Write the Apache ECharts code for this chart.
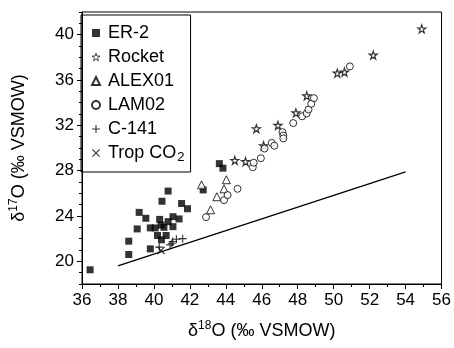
<!DOCTYPE html>
<html>
<head>
<meta charset="utf-8">
<script src="https://cdn.jsdelivr.net/npm/echarts@6/dist/echarts.min.js"></script>
<style>
  html, body { margin: 0; padding: 0; background: #fff; }
  #chart { width: 454px; height: 348px; }
</style>
</head>
<body>
<div id="chart"></div>
<script>
// values (d18O, d17O in permil VSMOW)
const er2X = [36.45, 38.6, 38.6, 39.18, 39.07, 39.55, 39.8, 39.8, 40.07, 40.32, 40.4, 40.2, 40.42, 40.68, 40.45, 40.79, 40.56, 40.79, 41.06, 41.06, 41.4, 41.54, 41.87, 42.74, 43.64, 43.84]
const er2Y = [19.25, 21.78, 20.6, 24.32, 22.86, 23.8, 21.1, 22.95, 22.95, 23.7, 23.2, 22.28, 21.9, 22.28, 25.3, 26.2, 23.0, 23.5, 23.06, 23.94, 23.74, 25.1, 24.64, 26.3, 28.62, 28.22]

const rocketX = [44.5, 45.1, 45.7, 46.1, 46.9, 47.9, 48.5, 50.2, 50.6, 52.2, 54.9]
const rocketY = [28.9, 28.8, 31.7, 30.2, 32.0, 33.1, 34.6, 36.6, 36.7, 38.2, 40.5]

const alexX = [42.65, 44.03, 43.9, 43.5, 43.15]
const alexY = [26.75, 27.2, 26.4, 25.7, 24.55]

const lamX = [42.9, 43.9, 44.1, 44.65, 45.5, 45.55, 45.95, 46.15, 46.55, 46.7, 47.15, 47.2, 47.2, 47.75, 48.25, 48.5, 48.6, 48.75, 48.9, 50.9]
const lamY = [23.9, 25.4, 25.85, 26.4, 28.3, 28.7, 29.1, 29.95, 30.45, 30.2, 31.4, 31.1, 30.85, 32.2, 32.8, 33.05, 33.4, 33.9, 34.4, 37.2]

const c141X = [40.3, 40.9, 41.0, 41.05, 41.25, 41.6]
const c141Y = [21.25, 21.45, 21.6, 21.75, 21.95, 22.0]

const tropX = [40.4]
const tropY = [20.95]

// terrestrial fractionation line
const lineX = [38.0, 54.0]
const lineY = [19.6, 27.9]

const xRange = [36, 56]
const xStep = 2
const yRange = [18, 42]
const yMajor = [20, 24, 28, 32, 36, 40]

const zip = (xs, ys) => xs.map((x, i) => [x, ys[i]])

const starPath = 'path://M50,2 L61,36 L97,36 L68,57 L79,92 L50,71 L21,92 L32,57 L3,36 L39,36 Z'
const plusPath = 'path://M4.3,0 H5.7 V4.3 H10 V5.7 H5.7 V10 H4.3 V5.7 H0 V4.3 H4.3 Z'
const crossPath = 'path://M0,1 L1,0 L5,4 L9,0 L10,1 L6,5 L10,9 L9,10 L5,6 L1,10 L0,9 L4,5 Z'

const font = 'Liberation Sans'
const openStyle = { color: '#fff', borderColor: '#000', borderWidth: 1 }
const titleRich = {
  b: { fontFamily: font, fontSize: 18, color: '#000', lineHeight: 22 },
  s: { fontFamily: font, fontSize: 12, color: '#000', lineHeight: 22, verticalAlign: 'top' },
}

const chart = echarts.init(document.getElementById('chart'), null, { renderer: 'canvas' })

chart.setOption({
  animation: false,
  textStyle: { fontFamily: font },
  grid: {
    left: 73, right: 11, top: 12, bottom: 64,
    show: true, borderColor: '#000', borderWidth: 1, backgroundColor: 'transparent',
  },
  legend: {
    data: [
      'ER-2',
      { name: 'Rocket', itemStyle: { color: '#fff', borderColor: '#000', borderWidth: 0.9 } },
      'ALEX01', 'LAM02', 'C-141', 'Trop CO2',
    ],
    orient: 'vertical',
    left: 81, top: 15,
    padding: [9, 6, 8, 10],
    borderColor: '#000', borderWidth: 1,
    itemWidth: 8, itemHeight: 8,
    itemGap: 6,
    selectedMode: false,
    textStyle: {
      fontFamily: font, fontSize: 18, color: '#000', padding: [0, 0, 0, 3],
      rich: {
        n: { fontFamily: font, fontSize: 18, color: '#000' },
        sub: { fontFamily: font, fontSize: 13, color: '#000', verticalAlign: 'bottom', padding: [9, 0, 0, 1] },
      },
    },
    formatter: (name) => name === 'Trop CO2' ? '{n|Trop CO}{sub|2}' : name,
  },
  xAxis: {
    type: 'value',
    min: xRange[0], max: xRange[1], interval: xStep,
    name: '{b|δ}{s|18}{b|O (‰ VSMOW)}',
    nameLocation: 'middle', nameGap: 36,
    nameTextStyle: { rich: titleRich },
    axisLine: { lineStyle: { color: '#000', width: 1 } },
    axisTick: { length: 5, lineStyle: { color: '#000' } },
    minorTick: { show: true, splitNumber: 2, length: 3, lineStyle: { color: '#000' } },
    axisLabel: { color: '#000', fontSize: 17, margin: 8, fontFamily: font },
    splitLine: { show: false },
  },
  yAxis: [
    {
      type: 'value',
      min: yRange[0], max: yRange[1],
      name: '{b|δ}{s|17}{b|O (‰ VSMOW)}',
      nameLocation: 'middle', nameGap: 52,
      nameTextStyle: { rich: titleRich },
      axisLine: { show: true, lineStyle: { color: '#000', width: 1 } },
      axisTick: { show: true, length: 5, customValues: yMajor, lineStyle: { color: '#000' } },
      axisLabel: { color: '#000', fontSize: 17, margin: 8, fontFamily: font, customValues: yMajor },
      splitLine: { show: false },
    },
    {
      // minor ticks every 1 permil
      type: 'value',
      min: yRange[0], max: yRange[1], interval: 1,
      position: 'left',
      axisLine: { show: false },
      axisTick: { show: true, length: 3, lineStyle: { color: '#000' } },
      axisLabel: { show: false },
      splitLine: { show: false },
    },
  ],
  series: [
    {
      name: 'TFL', type: 'line', data: zip(lineX, lineY),
      showSymbol: false, symbol: 'none',
      lineStyle: { color: '#000', width: 1.3 }, z: 1,
    },
    {
      name: 'ER-2', type: 'scatter', data: zip(er2X, er2Y),
      symbol: 'rect', symbolSize: 7,
      itemStyle: { color: '#000' },
    },
    {
      name: 'Rocket', type: 'scatter', data: zip(rocketX, rocketY),
      symbol: starPath, symbolSize: 8,
      itemStyle: { color: '#fff', borderColor: '#000', borderWidth: 1.2 },
    },
    {
      name: 'ALEX01', type: 'scatter', data: zip(alexX, alexY),
      symbol: 'triangle', symbolSize: 8,
      itemStyle: openStyle,
    },
    {
      name: 'LAM02', type: 'scatter', data: zip(lamX, lamY),
      symbol: 'circle', symbolSize: 7,
      itemStyle: openStyle,
    },
    {
      name: 'C-141', type: 'scatter', data: zip(c141X, c141Y),
      symbol: plusPath, symbolSize: 8,
      itemStyle: { color: '#000' },
    },
    {
      name: 'Trop CO2', type: 'scatter', data: zip(tropX, tropY),
      symbol: crossPath, symbolSize: 8,
      itemStyle: { color: '#000' },
    },
  ],
})
</script>
</body>
</html>
